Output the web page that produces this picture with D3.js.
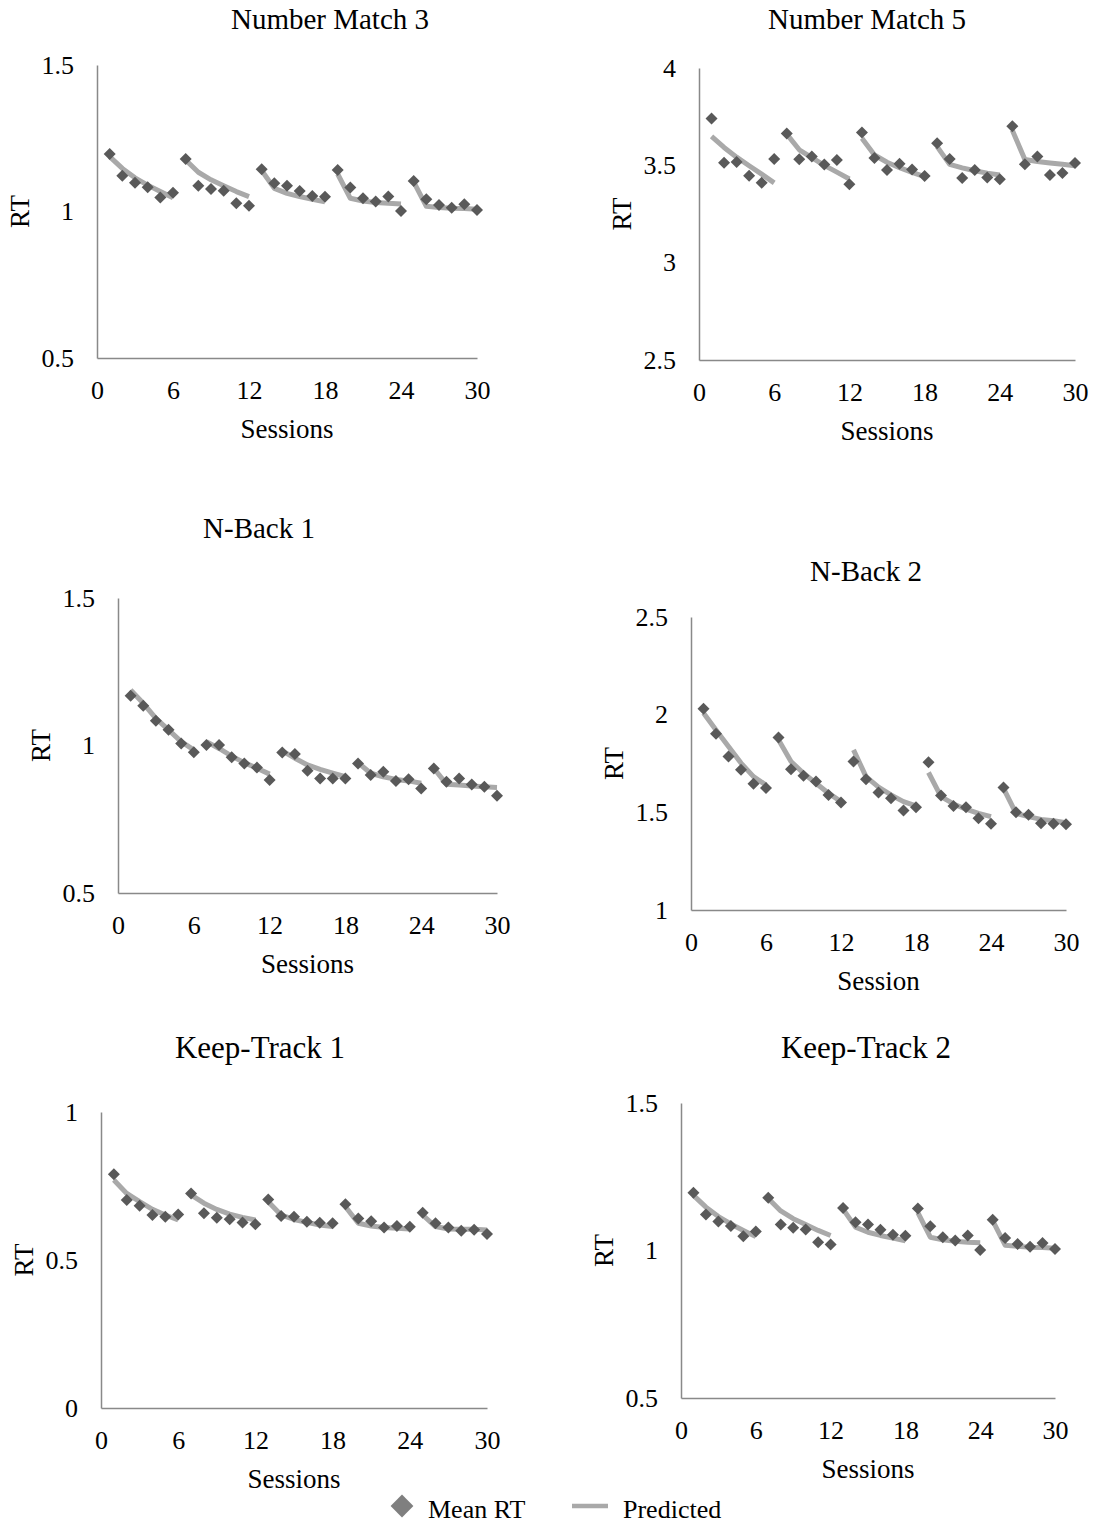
<!DOCTYPE html>
<html>
<head>
<meta charset="utf-8">
<script src="https://cdn.jsdelivr.net/npm/d3@7"></script>
<style>
  body { margin: 0; background: #fff; }
  svg text { font-family: "Liberation Serif", "Times New Roman", serif; fill: #000; }
</style>
</head>
<body>
<div id="chart"></div>
<script>
// sessions 1..30, five blocks of six
const sessions = d3.range(1, 31);
const xTicks = [0, 6, 12, 18, 24, 30];

// Number Match 3
const nm3Mean = [1.196, 1.122, 1.098, 1.083, 1.048, 1.064, 1.179, 1.088, 1.077, 1.071, 1.028, 1.020,
                 1.144, 1.096, 1.088, 1.070, 1.053, 1.050, 1.142, 1.082, 1.045, 1.034, 1.051, 1.002,
                 1.104, 1.042, 1.022, 1.013, 1.025, 1.005];
const nm3Pred = [1.187, 1.147, 1.115, 1.090, 1.068, 1.047, 1.176, 1.134, 1.108, 1.088, 1.068, 1.051,
                 1.140, 1.079, 1.062, 1.051, 1.042, 1.033, 1.128, 1.045, 1.036, 1.031, 1.028, 1.026,
                 1.101, 1.018, 1.014, 1.011, 1.010, 1.008];

// Number Match 5
const nm5Mean = [3.741, 3.513, 3.517, 3.446, 3.410, 3.533, 3.664, 3.531, 3.545, 3.504, 3.527, 3.403,
                 3.669, 3.538, 3.476, 3.508, 3.478, 3.445, 3.614, 3.532, 3.435, 3.476, 3.437, 3.429,
                 3.701, 3.505, 3.545, 3.450, 3.460, 3.512];
const nm5Pred = [3.649, 3.592, 3.542, 3.498, 3.455, 3.410, 3.660, 3.580, 3.540, 3.500, 3.465, 3.430,
                 3.639, 3.553, 3.516, 3.488, 3.464, 3.442, 3.596, 3.505, 3.487, 3.472, 3.460, 3.450,
                 3.680, 3.530, 3.520, 3.512, 3.505, 3.498];

// N-Back 1
const nb1Mean = [1.169, 1.135, 1.084, 1.053, 1.007, 0.977, 1.002, 1.002, 0.960, 0.939, 0.925, 0.883,
                 0.976, 0.971, 0.914, 0.888, 0.888, 0.888, 0.939, 0.900, 0.911, 0.880, 0.886, 0.854,
                 0.922, 0.877, 0.888, 0.868, 0.860, 0.830];
const nb1Pred = [1.188, 1.143, 1.092, 1.053, 1.013, 0.985, 1.013, 0.990, 0.964, 0.942, 0.923, 0.903,
                 0.982, 0.957, 0.934, 0.919, 0.906, 0.894, 0.942, 0.906, 0.894, 0.885, 0.880, 0.872,
                 0.923, 0.869, 0.866, 0.863, 0.860, 0.858];

// N-Back 2
const nb2Mean = [2.030, 1.902, 1.786, 1.718, 1.646, 1.624, 1.883, 1.721, 1.687, 1.658, 1.589, 1.550,
                 1.760, 1.670, 1.601, 1.572, 1.509, 1.526, 1.757, 1.586, 1.533, 1.526, 1.470, 1.441,
                 1.627, 1.500, 1.487, 1.444, 1.441, 1.439];
const nb2Pred = [2.008, 1.922, 1.837, 1.752, 1.683, 1.640, 1.871, 1.760, 1.700, 1.649, 1.598, 1.555,
                 1.820, 1.683, 1.629, 1.589, 1.555, 1.533, 1.704, 1.580, 1.543, 1.516, 1.495, 1.478,
                 1.623, 1.495, 1.478, 1.464, 1.457, 1.447];

// Keep-Track 1
const kt1Mean = [0.790, 0.703, 0.683, 0.652, 0.646, 0.654, 0.725, 0.658, 0.643, 0.638, 0.627, 0.621,
                 0.704, 0.649, 0.646, 0.629, 0.626, 0.624, 0.688, 0.640, 0.631, 0.610, 0.615, 0.612,
                 0.660, 0.624, 0.610, 0.599, 0.602, 0.588];
const kt1Pred = [0.770, 0.725, 0.697, 0.671, 0.652, 0.635, 0.720, 0.692, 0.671, 0.655, 0.644, 0.635,
                 0.697, 0.652, 0.637, 0.627, 0.618, 0.613, 0.680, 0.624, 0.615, 0.610, 0.607, 0.605,
                 0.652, 0.613, 0.605, 0.604, 0.604, 0.601];

// Keep-Track 2
const kt2Mean = [1.196, 1.122, 1.098, 1.083, 1.048, 1.064, 1.179, 1.088, 1.077, 1.071, 1.028, 1.020,
                 1.144, 1.096, 1.088, 1.070, 1.053, 1.050, 1.142, 1.082, 1.045, 1.034, 1.051, 1.002,
                 1.104, 1.042, 1.022, 1.013, 1.025, 1.005];
const kt2Pred = [1.187, 1.147, 1.115, 1.090, 1.068, 1.047, 1.176, 1.134, 1.108, 1.088, 1.068, 1.051,
                 1.140, 1.079, 1.062, 1.051, 1.042, 1.033, 1.128, 1.045, 1.036, 1.031, 1.028, 1.026,
                 1.101, 1.018, 1.014, 1.011, 1.010, 1.008];

const legendLabels = ["Mean RT", "Predicted"];

// layout of the six small charts (pixel boxes of the plot areas)
const panels = [
    { title: "Number Match 3", mean: nm3Mean, pred: nm3Pred, yDomain: [0.5, 1.5], yTicks: [0.5, 1, 1.5],
      xLabel: "Sessions", left: 97, right: 477, top: 65, bottom: 358, titleX: 330, titleY: 29, titleSize: 29 },
    { title: "Number Match 5", mean: nm5Mean, pred: nm5Pred, yDomain: [2.5, 4], yTicks: [2.5, 3, 3.5, 4],
      xLabel: "Sessions", left: 699, right: 1075, top: 68, bottom: 360, titleX: 867, titleY: 29, titleSize: 29 },
    { title: "N-Back 1", mean: nb1Mean, pred: nb1Pred, yDomain: [0.5, 1.5], yTicks: [0.5, 1, 1.5],
      xLabel: "Sessions", left: 118, right: 497, top: 598, bottom: 893, titleX: 259, titleY: 538, titleSize: 29 },
    { title: "N-Back 2", mean: nb2Mean, pred: nb2Pred, yDomain: [1, 2.5], yTicks: [1, 1.5, 2, 2.5],
      xLabel: "Session", left: 691, right: 1066, top: 617, bottom: 910, titleX: 866, titleY: 581, titleSize: 29 },
    { title: "Keep-Track 1", mean: kt1Mean, pred: kt1Pred, yDomain: [0, 1], yTicks: [0, 0.5, 1],
      xLabel: "Sessions", left: 101, right: 487, top: 1112, bottom: 1408, titleX: 260, titleY: 1058, titleSize: 31 },
    { title: "Keep-Track 2", mean: kt2Mean, pred: kt2Pred, yDomain: [0.5, 1.5], yTicks: [0.5, 1, 1.5],
      xLabel: "Sessions", left: 681, right: 1055, top: 1103, bottom: 1398, titleX: 866, titleY: 1058, titleSize: 31 }
];

const width = 1095;
const height = 1523;
const axisColor = "#898989";
const markColor = "#595959";
const lineColor = "#a9a9a9";

const svg = d3.select("#chart")
    .append("svg")
    .attr("width", width)
    .attr("height", height);

const diamond = d3.symbol().type(d3.symbolSquare).size(72);

panels.forEach(p => {
    const x = d3.scaleLinear().domain([0, 30]).range([p.left, p.right]);
    const y = d3.scaleLinear().domain(p.yDomain).range([p.bottom, p.top]);
    const g = svg.append("g");

    // axes
    const yAxis = g.append("g")
        .attr("transform", `translate(${p.left},0)`)
        .call(d3.axisLeft(y).tickValues(p.yTicks).tickSize(0).tickSizeOuter(0).tickPadding(23).tickFormat(d3.format("")));
    const xAxis = g.append("g")
        .attr("transform", `translate(0,${p.bottom})`)
        .call(d3.axisBottom(x).tickValues(xTicks).tickSize(0).tickSizeOuter(0).tickPadding(23));

    [yAxis, xAxis].forEach(a => {
        a.select(".domain").attr("stroke", axisColor).attr("stroke-width", 1.5);
        a.selectAll("text").attr("font-size", 26).style("font-family", '"Liberation Serif", "Times New Roman", serif').attr("fill", "#000");
    });

    // predicted lines, one piece per block of six sessions
    const blocks = d3.range(5).map(b => sessions.slice(b * 6, b * 6 + 6).map(s => ({ s, v: p.pred[s - 1] })));
    const line = d3.line().x(d => x(d.s)).y(d => y(d.v));
    g.selectAll("path.pred")
        .data(blocks)
        .enter()
        .append("path")
        .attr("class", "pred")
        .attr("d", line)
        .attr("fill", "none")
        .attr("stroke", lineColor)
        .attr("stroke-width", 5)
        .attr("stroke-linejoin", "round");

    // mean RT diamonds
    g.selectAll("path.mean")
        .data(sessions.map(s => ({ s, v: p.mean[s - 1] })))
        .enter()
        .append("path")
        .attr("class", "mean")
        .attr("d", diamond)
        .attr("transform", d => `translate(${x(d.s)},${y(d.v)}) rotate(45)`)
        .attr("fill", markColor);

    // titles and axis labels
    g.append("text")
        .attr("x", p.titleX)
        .attr("y", p.titleY)
        .attr("text-anchor", "middle")
        .attr("font-size", p.titleSize)
        .text(p.title);

    g.append("text")
        .attr("x", (p.left + p.right) / 2)
        .attr("y", p.bottom + 80)
        .attr("text-anchor", "middle")
        .attr("font-size", 27)
        .text(p.xLabel);

    g.append("text")
        .attr("transform", `translate(${p.left - 68},${(p.top + p.bottom) / 2}) rotate(-90)`)
        .attr("text-anchor", "middle")
        .attr("font-size", 27)
        .text("RT");
});

// legend
const legend = svg.append("g").attr("transform", "translate(0,1506)");
legend.append("path")
    .attr("d", d3.symbol().type(d3.symbolSquare).size(260))
    .attr("transform", "translate(402,0) rotate(45)")
    .attr("fill", "#7f7f7f");
legend.append("text")
    .attr("x", 428)
    .attr("y", 12)
    .attr("font-size", 26)
    .text(legendLabels[0]);
legend.append("line")
    .attr("x1", 572).attr("x2", 608)
    .attr("y1", 0).attr("y2", 0)
    .attr("stroke", lineColor)
    .attr("stroke-width", 4.5);
legend.append("text")
    .attr("x", 623)
    .attr("y", 12)
    .attr("font-size", 26)
    .text(legendLabels[1]);
</script>
</body>
</html>
